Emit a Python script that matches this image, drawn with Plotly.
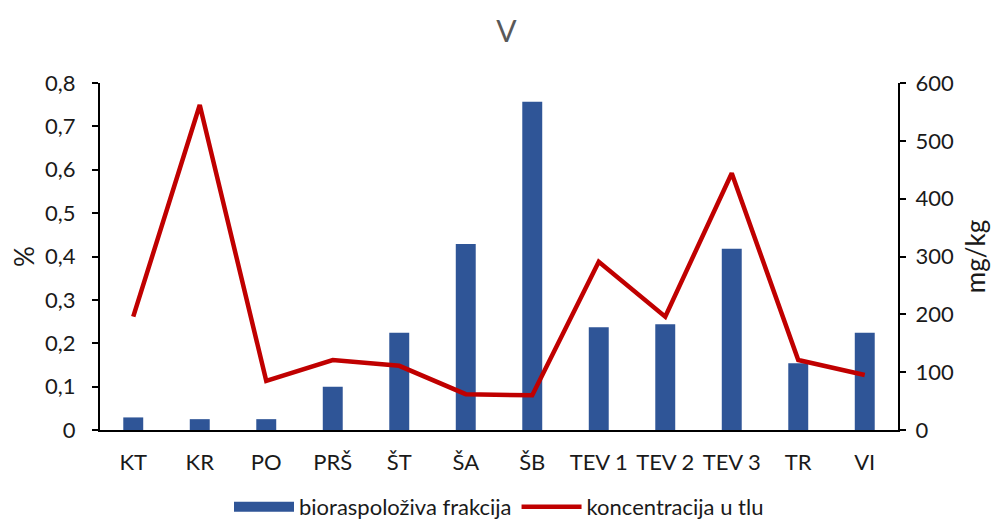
import plotly.graph_objects as go

# Lokacije
lokacije = ["KT", "KR", "PO", "PRŠ", "ŠT", "ŠA", "ŠB", "TEV 1", "TEV 2", "TEV 3", "TR", "VI"]

# bioraspoloživa frakcija (%)
bio_frakcija = [0.029, 0.025, 0.025, 0.100, 0.224, 0.429, 0.757, 0.237, 0.244, 0.418, 0.154, 0.224]

# koncentracija u tlu (mg/kg)
koncentracija = [196, 562, 85, 121, 111, 62, 60, 291, 196, 444, 121, 95]

BLUE = "#2f5597"
RED = "#c00000"
FONT = "Lato"

fig = go.Figure()

fig.add_trace(go.Bar(
    x=lokacije, y=bio_frakcija,
    name="bioraspoloživa frakcija",
    marker=dict(color=BLUE, line=dict(width=0)),
    width=0.3, showlegend=False,
))

# legend-only entry so the bar key is a wide block like the original
fig.add_trace(go.Scatter(
    x=lokacije, y=[None] * len(lokacije),
    name="bioraspoloživa frakcija",
    mode="lines", line=dict(color=BLUE, width=13),
    hoverinfo="skip",
))

fig.add_trace(go.Scatter(
    x=lokacije, y=koncentracija,
    name="koncentracija u tlu",
    mode="lines",
    line=dict(color=RED, width=4.5),
    yaxis="y2",
))

# page body has an 8px margin, so the figure is 8px smaller than the window
fig.update_layout(
    width=997, height=520,
    paper_bgcolor="white", plot_bgcolor="white",
    separators=",.",
    font=dict(family=FONT, size=22, color="#1a1a1a"),
    title=dict(text="V", x=0.5, xanchor="center", y=0.955, yanchor="middle",
               font=dict(family=FONT, size=30, color="#595959")),
    margin=dict(l=92, r=107, t=75, b=98, autoexpand=False),
    xaxis=dict(
        showline=True, linecolor="black", linewidth=2,
        ticks="", showgrid=False, ticklabelstandoff=12,
    ),
    yaxis=dict(
        range=[0, 0.8], dtick=0.1,
        showline=True, linecolor="black", linewidth=2,
        ticks="outside", tickcolor="black", ticklen=6, tickwidth=2,
        ticklabelstandoff=12,
        showgrid=False, zeroline=False,
        title=dict(text="%", standoff=12),
    ),
    yaxis2=dict(
        range=[0, 600], dtick=100,
        overlaying="y", side="right",
        showline=True, linecolor="black", linewidth=2,
        ticks="outside", tickcolor="black", ticklen=6, tickwidth=2,
        ticklabelstandoff=5,
        showgrid=False, zeroline=False,
        title=dict(text="mg/kg", standoff=14),
    ),
    legend=dict(
        orientation="h", x=0.5, xanchor="center",
        yref="container", y=0.0, yanchor="bottom",
        font=dict(family=FONT, size=22), itemwidth=60,
        tracegroupgap=0,
    ),
)

fig.write_html("out.html")
